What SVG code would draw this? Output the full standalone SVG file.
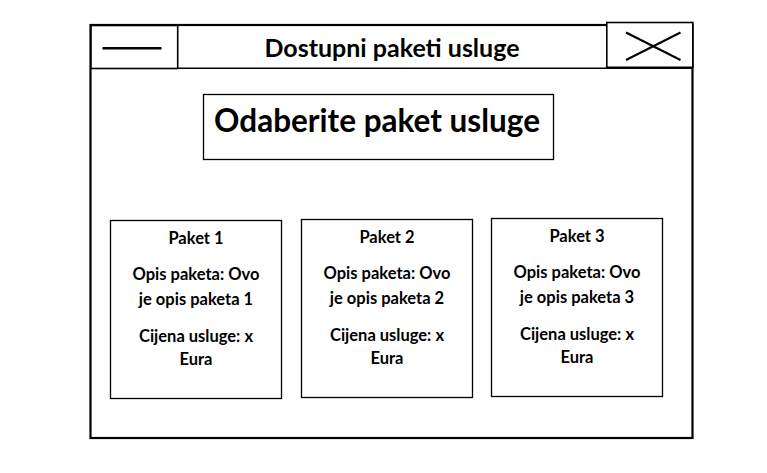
<svg xmlns="http://www.w3.org/2000/svg" width="767" height="473" viewBox="0 0 767 473">
<style>
.t{font-family:Lato,"Liberation Sans",sans-serif;font-weight:bold;fill:#000;text-anchor:middle}
.b{fill:#fff;stroke:#000;stroke-width:1.3}
.p{font-size:16.5px}
</style>
<rect width="767" height="473" fill="#fff"/>
<g id="window">
<rect x="90.5" y="25" width="602" height="413" fill="#fff" stroke="#000" stroke-width="2.2"/>
<line x1="90" y1="68.3" x2="693" y2="68.3" stroke="#000" stroke-width="1.5"/>
</g>
<g id="minimize">
<rect x="91" y="25.5" width="86.7" height="43" fill="#fff" stroke="#000" stroke-width="1.6"/>
<line x1="102.5" y1="48.3" x2="161.5" y2="48.3" stroke="#000" stroke-width="2.6"/>
</g>
<g id="title">
<text class="t" x="392" y="56.5" font-size="25">Dostupni paketi usluge</text>
</g>
<g id="close">
<rect x="606.8" y="22.5" width="86" height="44.8" fill="#fff" stroke="#000" stroke-width="1.6"/>
<line x1="626" y1="32.5" x2="680.5" y2="60" stroke="#000" stroke-width="2"/>
<line x1="626" y1="60" x2="680.5" y2="32.5" stroke="#000" stroke-width="2"/>
</g>
<g id="heading">
<rect class="b" x="203.5" y="94.5" width="350" height="65"/>
<text class="t" x="377" y="132" font-size="31.5">Odaberite paket usluge</text>
</g>
<g id="paket1">
<rect class="b" x="110.5" y="220.5" width="171" height="178"/>
<text class="t p" x="196" y="243.5">Paket 1</text>
<text class="t p" x="196" y="279.5">Opis paketa: Ovo</text>
<text class="t p" x="196" y="304.5">je opis paketa 1</text>
<text class="t p" x="196" y="341.5">Cijena usluge: x</text>
<text class="t p" x="196" y="364.5">Eura</text>
</g>
<g id="paket2">
<rect class="b" x="301.5" y="219.5" width="171" height="178"/>
<text class="t p" x="387" y="242.5">Paket 2</text>
<text class="t p" x="387" y="278.5">Opis paketa: Ovo</text>
<text class="t p" x="387" y="303.5">je opis paketa 2</text>
<text class="t p" x="387" y="340.5">Cijena usluge: x</text>
<text class="t p" x="387" y="363.5">Eura</text>
</g>
<g id="paket3">
<rect class="b" x="491.5" y="218.5" width="171" height="178"/>
<text class="t p" x="577" y="241.5">Paket 3</text>
<text class="t p" x="577" y="277.5">Opis paketa: Ovo</text>
<text class="t p" x="577" y="302.5">je opis paketa 3</text>
<text class="t p" x="577" y="339.5">Cijena usluge: x</text>
<text class="t p" x="577" y="362.5">Eura</text>
</g>
<g id="connectors"></g>
</svg>
